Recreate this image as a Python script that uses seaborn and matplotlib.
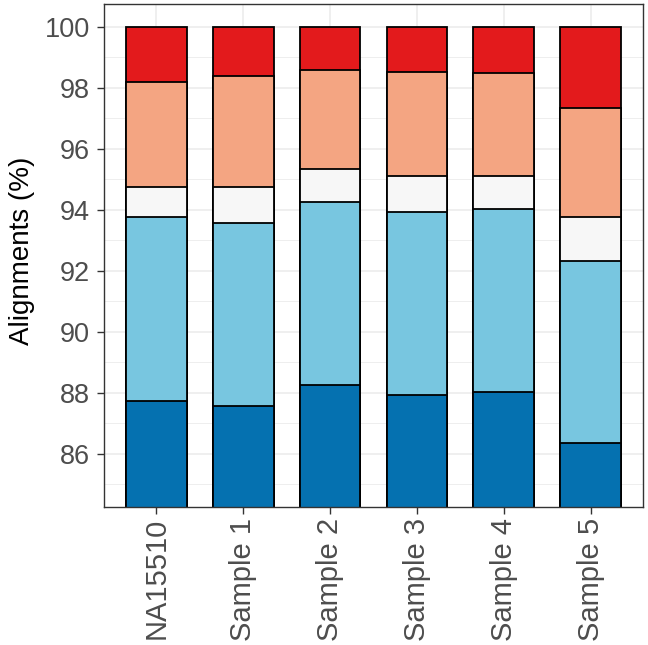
import numpy as np
import pandas as pd
import matplotlib
matplotlib.use("Agg")
import matplotlib.pyplot as plt
import seaborn as sns
from matplotlib.ticker import MultipleLocator

# Samples and per-category alignment percentages (bottom to top of each bar)
samples = ['NA15510', 'Sample 1', 'Sample 2', 'Sample 3', 'Sample 4', 'Sample 5']
cat1 = [87.74, 87.56, 88.25, 87.92, 88.02, 86.35]
cat2 = [6.01, 6.01, 6.02, 6.02, 6.00, 5.98]
cat3 = [1.00, 1.18, 1.06, 1.16, 1.09, 1.42]
cat4 = [3.45, 3.64, 3.25, 3.42, 3.37, 3.59]
cat5 = [1.80, 1.61, 1.42, 1.48, 1.52, 2.66]

colors = ['#0571B0', '#78C6E0', '#F7F7F7', '#F4A582', '#E31A1C']

df = pd.DataFrame({'sample': samples, 'c1': cat1, 'c2': cat2, 'c3': cat3,
                   'c4': cat4, 'c5': cat5})
cols = ['c1', 'c2', 'c3', 'c4', 'c5']
cum = df[cols].cumsum(axis=1)

sns.set_style("white")
plt.rcParams['font.family'] = ['Liberation Sans', 'DejaVu Sans']

fig, ax = plt.subplots(figsize=(6.48, 6.45), dpi=100)
fig.subplots_adjust(left=104/648, right=643/648, top=1-4/645, bottom=1-507/645)

# draw the stack from the top layer down so lower layers sit on top
for col, color in reversed(list(zip(cols, colors))):
    sns.barplot(x=df['sample'], y=cum[col], color=color, width=0.7,
                edgecolor='black', linewidth=1.3, saturation=1, ax=ax,
                order=samples)

ax.set_xlim(-0.6, 5.6)
ax.set_ylim(84.25, 100.75)
ax.yaxis.set_major_locator(MultipleLocator(2))
ax.yaxis.set_minor_locator(MultipleLocator(1))
ax.set_axisbelow(True)
ax.grid(which='major', axis='both', color='#EBEBEB', linewidth=1.1)
ax.grid(which='minor', axis='y', color='#EBEBEB', linewidth=0.6)

ax.set_xlabel('')
ax.set_ylabel('Alignments (%)', fontsize=20, color='black')
ax.yaxis.set_label_coords(-0.128, 0.51)
ax.tick_params(axis='both', which='major', length=5, width=1, color='#333333',
               labelcolor='#4D4D4D', bottom=True, left=True)
ax.tick_params(axis='y', which='major', labelsize=19.5, pad=5)
ax.tick_params(axis='x', which='major', labelsize=21, pad=3)
ax.tick_params(axis='y', which='minor', length=0)
plt.setp(ax.get_xticklabels(), rotation=90, ha='center', va='top')

for s in ax.spines.values():
    s.set_color('#333333')
    s.set_linewidth(1.0)

fig.savefig('out.png', dpi=100)
